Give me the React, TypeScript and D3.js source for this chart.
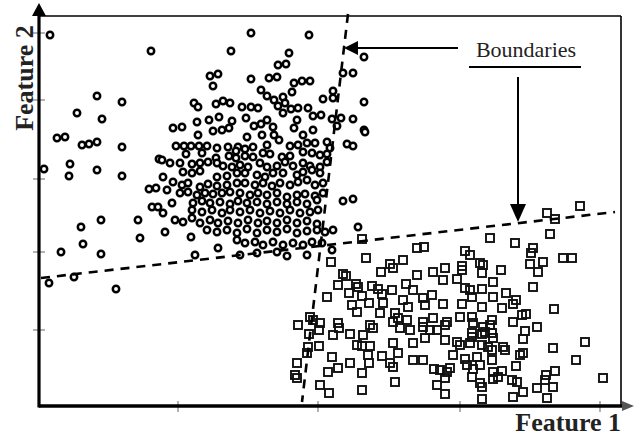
import React from "react";
import * as d3 from "d3";

// Class A samples (circles): [feature1, feature2]
const classA: [number, number][] = [
  [1.1, 37.1], [11.2, 35.5], [5.8, 31.0], [8.3, 30.4], [3.8, 29.3], [6.3, 28.7],
  [1.8, 26.8], [2.6, 26.9], [4.3, 26.1], [5.0, 26.2], [5.8, 26.4], [8.3, 25.9],
  [0.5, 23.7], [3.1, 24.2], [3.0, 23.0], [5.8, 23.6], [8.3, 23.0], [6.2, 18.6],
  [4.2, 17.9], [4.4, 16.2], [2.2, 15.4], [6.2, 15.2], [1.0, 12.3], [3.5, 12.9],
  [7.7, 11.7], [9.9, 18.6], [10.1, 16.8], [11.0, 21.7], [11.7, 21.8], [11.3, 19.9],
  [11.9, 19.9], [12.0, 24.7], [13.4, 27.8], [14.3, 27.9], [15.5, 30.3], [15.8, 28.4],
  [15.9, 27.1], [13.7, 26.0], [14.5, 26.0], [15.2, 26.0], [16.0, 26.0], [16.8, 26.0],
  [21.2, 37.3], [27.0, 37.1], [19.2, 35.5], [25.0, 35.3], [32.5, 34.9], [23.9, 34.1],
  [24.7, 34.2], [17.1, 33.0], [17.9, 33.2], [17.4, 32.0], [21.2, 32.7], [23.0, 32.8],
  [23.8, 32.9], [25.5, 32.3], [26.3, 32.5], [27.1, 32.5], [30.4, 33.3], [31.4, 33.3],
  [22.2, 31.6], [22.8, 31.0], [23.5, 30.6], [24.4, 30.9], [25.3, 31.4], [29.4, 31.5],
  [29.4, 30.8], [28.4, 30.7], [32.5, 30.4], [15.9, 29.9], [17.7, 30.2], [18.4, 30.5],
  [19.1, 30.3], [20.3, 29.9], [21.2, 29.9], [21.9, 29.8], [23.9, 30.0], [24.6, 30.3],
  [24.4, 29.3], [25.2, 29.7], [25.9, 29.8], [26.9, 29.8], [27.4, 29.0], [28.2, 29.1],
  [29.3, 28.7], [30.2, 28.8], [31.4, 28.7], [32.5, 27.6], [17.0, 28.6], [18.0, 28.9],
  [19.3, 28.5], [17.4, 27.5], [18.3, 27.6], [19.0, 27.8], [20.7, 28.8], [21.5, 28.0],
  [22.2, 28.2], [22.8, 28.6], [23.4, 27.9], [25.8, 28.6], [25.5, 27.8], [27.4, 27.6],
  [26.4, 27.1], [29.8, 28.0], [20.8, 26.9], [22.3, 27.1], [23.5, 27.1], [17.8, 25.8],
  [18.9, 25.9], [19.9, 25.9], [21.4, 25.9], [22.8, 26.1], [24.0, 26.6], [25.1, 26.0],
  [25.9, 26.1], [26.8, 26.3], [27.6, 26.3], [28.8, 26.4], [30.8, 26.2], [31.4, 26.0],
  [32.6, 27.4], [19.7, 25.5], [20.6, 25.7], [29.1, 25.8], [14.7, 25.2], [16.3, 25.3],
  [17.7, 24.8], [19.0, 25.0], [19.7, 24.8], [20.6, 25.0], [21.4, 24.9], [22.4, 25.3],
  [23.1, 25.2], [24.3, 24.9], [25.1, 25.0], [26.4, 25.4], [27.3, 25.3], [28.1, 25.1],
  [28.8, 25.2], [12.3, 24.6], [13.1, 24.3], [14.1, 24.3], [15.3, 24.2], [16.1, 24.3],
  [16.9, 24.4], [17.8, 24.3], [18.4, 24.0], [19.3, 23.9], [20.1, 24.1], [20.9, 23.9],
  [22.1, 24.3], [22.8, 23.9], [23.8, 24.0], [24.6, 24.4], [25.4, 24.0], [26.4, 24.3],
  [27.1, 24.0], [28.1, 23.9], [28.8, 24.4], [12.4, 22.9], [13.4, 22.4], [14.4, 23.4],
  [15.3, 23.3], [16.1, 23.5], [17.8, 22.9], [18.8, 23.0], [19.8, 23.3], [20.6, 23.3],
  [21.8, 23.1], [22.6, 22.9], [23.4, 23.3], [24.4, 23.3], [25.8, 23.1], [26.4, 23.4],
  [27.3, 23.6], [28.1, 23.3], [12.8, 21.6], [14.3, 22.1], [14.9, 22.3], [16.1, 21.9],
  [16.9, 22.2], [17.8, 22.0], [18.8, 22.1], [19.8, 22.3], [20.6, 22.3], [21.6, 22.1],
  [22.4, 22.3], [23.3, 22.0], [24.1, 22.3], [25.1, 22.1], [25.9, 22.4], [26.8, 22.6],
  [27.6, 22.1], [28.4, 22.3], [14.1, 21.3], [14.9, 21.4], [15.8, 21.1], [16.6, 21.3],
  [17.4, 21.2], [18.3, 21.3], [19.1, 21.4], [20.1, 21.3], [21.1, 21.1], [21.9, 21.3],
  [22.8, 21.1], [23.8, 21.3], [24.8, 20.9], [25.8, 21.1], [26.6, 21.2], [27.6, 21.0],
  [28.4, 21.3], [12.4, 19.3], [13.3, 20.3], [15.4, 20.3], [16.3, 20.5], [17.1, 20.3],
  [18.1, 20.4], [19.1, 20.2], [19.9, 20.5], [20.8, 20.3], [21.8, 20.4], [22.8, 20.2],
  [23.8, 20.4], [24.8, 20.2], [25.8, 20.4], [26.8, 20.2], [27.8, 20.6], [30.4, 20.5],
  [31.4, 20.7], [15.3, 19.6], [16.3, 19.4], [17.3, 19.6], [18.3, 19.3], [19.1, 19.6],
  [20.1, 19.4], [21.1, 19.6], [22.1, 19.3], [23.1, 19.5], [24.1, 19.3], [25.1, 19.6],
  [26.1, 19.3], [27.1, 19.4], [27.9, 19.6], [13.6, 18.6], [14.4, 18.4], [15.3, 18.8],
  [16.1, 18.3], [17.1, 18.6], [17.9, 18.3], [18.9, 18.5], [19.9, 18.3], [20.9, 18.6],
  [21.9, 18.3], [22.8, 18.5], [23.8, 18.3], [24.8, 18.6], [25.8, 18.3], [26.8, 18.5],
  [27.8, 18.2], [31.9, 17.9], [12.6, 17.4], [15.2, 16.9], [16.8, 17.6], [17.8, 17.4],
  [18.8, 17.6], [19.8, 17.3], [20.8, 17.7], [21.8, 17.3], [22.8, 17.6], [23.8, 17.4],
  [24.8, 17.7], [25.8, 17.3], [26.8, 17.5], [27.8, 17.6], [28.6, 17.4], [29.4, 17.6],
  [19.8, 16.6], [20.6, 16.3], [21.6, 16.4], [22.4, 16.1], [23.4, 16.4], [24.4, 16.1],
  [25.4, 16.3], [26.4, 16.1], [27.3, 16.4], [28.3, 16.3], [15.6, 15.1], [17.9, 15.8],
  [20.1, 15.1], [21.8, 15.3], [23.8, 15.4], [24.8, 15.0], [26.8, 15.1], [29.3, 15.6],
];

// Class B samples (squares): [feature1, feature2]
const classB: [number, number][] = [
  [32.3, 16.7], [37.8, 15.8], [38.5, 15.9], [42.6, 15.5], [43.1, 15.1], [29.2, 14.4],
  [32.7, 14.8], [36.4, 14.6], [35.1, 14.2], [35.4, 13.8], [34.2, 13.4], [37.8, 13.1],
  [39.4, 13.4], [40.6, 13.8], [40.4, 12.6], [41.8, 12.7], [42.3, 14.0], [42.3, 13.6],
  [30.4, 13.2], [30.7, 13.0], [29.9, 12.1], [31.7, 12.2], [31.9, 11.9], [33.3, 12.0],
  [33.9, 11.7], [35.3, 11.6], [36.7, 12.2], [37.4, 11.6], [31.0, 11.3], [32.3, 11.0],
  [34.3, 11.2], [34.4, 10.3], [33.0, 10.3], [28.8, 10.9], [36.4, 10.6], [36.9, 9.9],
  [38.4, 10.8], [39.3, 11.1], [38.6, 10.1], [40.4, 10.2], [31.3, 10.1], [31.8, 9.4],
  [34.1, 9.3], [35.6, 9.3], [35.9, 8.8], [36.8, 8.6], [38.4, 8.4], [39.4, 8.8],
  [39.8, 7.6], [40.8, 8.4], [25.9, 8.1], [27.1, 8.9], [28.1, 8.3], [28.0, 7.6],
  [29.9, 8.3], [30.0, 7.8], [31.1, 7.2], [33.1, 8.1], [33.4, 7.8], [35.4, 8.4],
  [36.1, 7.8], [37.1, 7.6], [38.4, 7.9], [39.1, 7.6], [29.4, 7.1], [32.4, 7.1],
  [54.1, 20.0], [50.8, 19.3], [51.6, 18.7], [45.1, 16.8], [51.1, 17.2], [47.6, 16.3],
  [49.4, 15.8], [49.2, 15.3], [49.1, 14.2], [49.9, 13.4], [50.4, 14.4], [52.4, 14.8],
  [53.3, 14.8], [44.1, 14.3], [44.4, 14.1], [44.3, 13.3], [46.2, 13.6], [45.4, 12.4],
  [49.4, 11.9], [42.6, 11.8], [43.1, 11.6], [44.3, 11.7], [43.3, 10.9], [45.4, 10.9],
  [46.7, 11.3], [47.7, 10.6], [47.4, 10.2], [42.3, 10.2], [44.3, 9.9], [46.3, 9.8],
  [51.5, 9.7], [48.3, 9.1], [48.7, 9.2], [42.1, 8.9], [43.3, 8.9], [45.3, 8.6],
  [40.6, 8.1], [43.4, 8.3], [47.4, 8.4], [49.8, 7.9], [44.4, 7.9], [44.6, 7.4],
  [45.3, 7.3], [45.4, 6.8], [48.6, 7.5], [48.4, 6.7], [43.3, 6.9], [40.6, 6.6],
  [41.8, 6.4], [42.1, 6.1], [44.3, 6.1], [45.3, 5.6], [46.4, 5.9], [46.6, 5.6],
  [48.4, 5.3], [48.1, 5.1], [51.4, 5.8], [54.6, 6.4], [41.4, 5.1], [42.6, 4.7],
  [43.8, 4.9], [45.3, 4.6], [44.1, 4.1], [42.8, 4.1], [41.1, 3.8], [40.8, 3.4],
  [47.7, 4.0], [46.3, 3.5], [53.7, 4.6], [51.6, 3.5], [50.7, 3.1], [51.4, 1.9],
  [50.6, 2.6], [49.8, 1.8], [56.4, 2.8], [45.4, 2.7], [43.3, 2.9], [47.3, 2.6],
  [47.8, 2.4], [40.6, 2.8], [44.3, 1.9], [48.4, 1.4], [47.4, 0.9], [40.6, 1.2],
  [44.3, 0.7], [50.8, 0.8], [27.0, 7.2], [31.8, 6.1], [32.3, 6.0], [33.1, 6.0],
  [26.9, 5.9], [28.0, 6.0], [26.8, 5.3], [29.3, 4.9], [31.1, 4.3], [32.9, 5.1],
  [33.0, 4.3], [34.3, 5.0], [25.8, 4.3], [25.6, 3.1], [25.8, 2.8], [28.9, 3.4],
  [29.9, 3.8], [32.3, 3.3], [35.1, 4.3], [35.4, 3.9], [28.1, 2.1], [29.0, 1.3],
  [32.3, 1.6], [35.6, 2.4], [37.4, 4.6], [38.4, 4.6], [35.4, 6.3], [35.9, 5.3],
  [37.4, 6.3], [38.6, 6.8], [43.1, 6.3], [44.9, 5.9], [43.3, 7.3], [44.3, 7.2],
  [45.1, 8.1], [39.5, 3.7], [40.1, 3.6], [39.8, 2.1], [43.4, 3.7], [44.1, 2.3],
  [45.4, 3.4], [45.9, 2.9], [27.4, 8.6],
];

// Decision boundaries: each as two end points [feature1, feature2]
const boundaryA: [number, number][] = [[0.2, 12.8], [57.6, 19.4]];
const boundaryB: [number, number][] = [[30.9, 39.2], [26.3, 0.4]];

// Unlabelled tick positions
const xTicks = [13.9, 27.9, 42.1, 56.1];
const yTicks = [7.6, 15.4, 22.7, 30.6, 37.3];

const W = 641;
const H = 436;
const left = 39;
const right = 621;
const top = 16;
const bottom = 406;

export default function App() {
  const x = d3.scaleLinear().domain([0, 58.2]).range([left, right]);
  const y = d3.scaleLinear().domain([0, 39]).range([bottom, top]);
  const line = d3
    .line<[number, number]>()
    .x((d) => x(d[0]))
    .y((d) => y(d[1]));
  const sq = 8;
  const serif = "'Liberation Serif', 'Times New Roman', serif";

  return (
    <svg
      width={W}
      height={H}
      viewBox={`0 0 ${W} ${H}`}
      style={{ position: "absolute", left: 0, top: 0, background: "#fff" }}
    >
      <rect x={0} y={0} width={W} height={H} fill="#fff" />

      {/* frame: top and right borders */}
      <line x1={left} y1={top} x2={right} y2={top} stroke="#000" strokeWidth={1.6} />
      <line x1={right} y1={top} x2={right} y2={bottom} stroke="#000" strokeWidth={1.6} />

      {/* class B squares */}
      <g fill="none" stroke="#111" strokeWidth={1.9}>
        {classB.map((d, i) => (
          <rect key={i} x={x(d[0]) - sq / 2} y={y(d[1]) - sq / 2} width={sq} height={sq} />
        ))}
      </g>

      {/* class A circles */}
      <g fill="#fff" stroke="#000" strokeWidth={2.5}>
        {classA.map((d, i) => (
          <circle key={i} cx={x(d[0])} cy={y(d[1])} r={3.2} />
        ))}
      </g>

      {/* boundaries */}
      <g fill="none" stroke="#000" strokeWidth={2.6} strokeDasharray="9 7">
        <path d={line(boundaryA) || ""} />
        <path d={line(boundaryB) || ""} />
      </g>

      {/* ticks */}
      <g stroke="#888" strokeWidth={1.3}>
        {xTicks.map((t) => (
          <line key={t} x1={x(t)} x2={x(t)} y1={bottom - 5} y2={bottom + 6} />
        ))}
        {yTicks.map((t) => (
          <line key={t} x1={left - 6} x2={left + 6} y1={y(t)} y2={y(t)} />
        ))}
      </g>

      {/* axes with arrow heads */}
      <line x1={left} y1={bottom} x2={right + 4} y2={bottom} stroke="#000" strokeWidth={3.5} />
      <path d={`M${right + 1},${bottom - 5} L${right + 13},${bottom} L${right + 1},${bottom + 5} Z`} fill="#555" />
      <line x1={left} y1={bottom + 1.5} x2={left} y2={10} stroke="#000" strokeWidth={3.2} />
      <path d={`M${left},3 L${left - 7},${top} L${left + 7},${top} Z`} fill="#000" />

      {/* axis titles */}
      <text
        x={right}
        y={431}
        textAnchor="end"
        fontFamily={serif}
        fontWeight="bold"
        fontSize={26}
        fill="#222"
      >
        Feature 1
      </text>
      <text
        transform={`translate(33,78) rotate(-90)`}
        textAnchor="middle"
        fontFamily={serif}
        fontWeight="bold"
        fontSize={26}
        fill="#222"
      >
        Feature 2
      </text>

      {/* annotation */}
      <text x={526} y={57} textAnchor="middle" fontFamily={serif} fontSize={22} fill="#222">
        Boundaries
      </text>
      <line x1={469} y1={67} x2={581} y2={67} stroke="#000" strokeWidth={2} />
      <line x1={458} y1={48} x2={352} y2={48} stroke="#000" strokeWidth={2} />
      <path d="M344,48 L358,41 L358,55 Z" fill="#000" />
      <line x1={518} y1={77} x2={518} y2={210} stroke="#000" strokeWidth={2} />
      <path d="M518,222 L510,204 L526,204 Z" fill="#000" />
    </svg>
  );
}
